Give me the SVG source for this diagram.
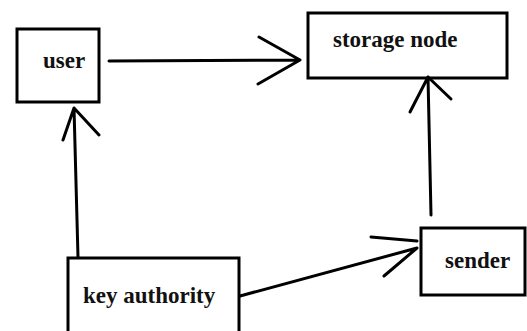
<svg xmlns="http://www.w3.org/2000/svg" width="527" height="331" viewBox="0 0 527 331">
<style>
.box{fill:#fff;stroke:#000;stroke-width:3}
.ln{fill:none;stroke:#000;stroke-width:3;stroke-linecap:round;stroke-linejoin:round}
</style>
<rect width="527" height="331" fill="#fff"/>
<g font-family="Liberation Serif, DejaVu Serif, serif" font-weight="bold" font-size="23" fill="#111">
<g id="user"><rect class="box" x="17" y="29" width="82" height="73"/><text x="43" y="68">user</text></g>
<g id="storage-node"><rect class="box" x="308" y="13" width="199" height="65"/><text x="333" y="47">storage node</text></g>
<g id="sender"><rect class="box" x="421" y="228" width="104" height="67"/><text x="445" y="268">sender</text></g>
<g id="key-authority"><rect class="box" x="68" y="258" width="171" height="76"/><text x="83" y="303">key authority</text></g>
</g>
<g id="connectors">
<path class="ln" d="M109 61 L300 60 M259 37 L300 60 L258 84"/>
<path class="ln" d="M78 257 L74 108 M63 140 L74 108 L99 135"/>
<path class="ln" d="M431 215 L428 77 M410 112 L428 77 L451 99"/>
<path class="ln" d="M240 296 L417 248 M371 237 L417 241 M384 276 L417 248"/>
</g>
</svg>
